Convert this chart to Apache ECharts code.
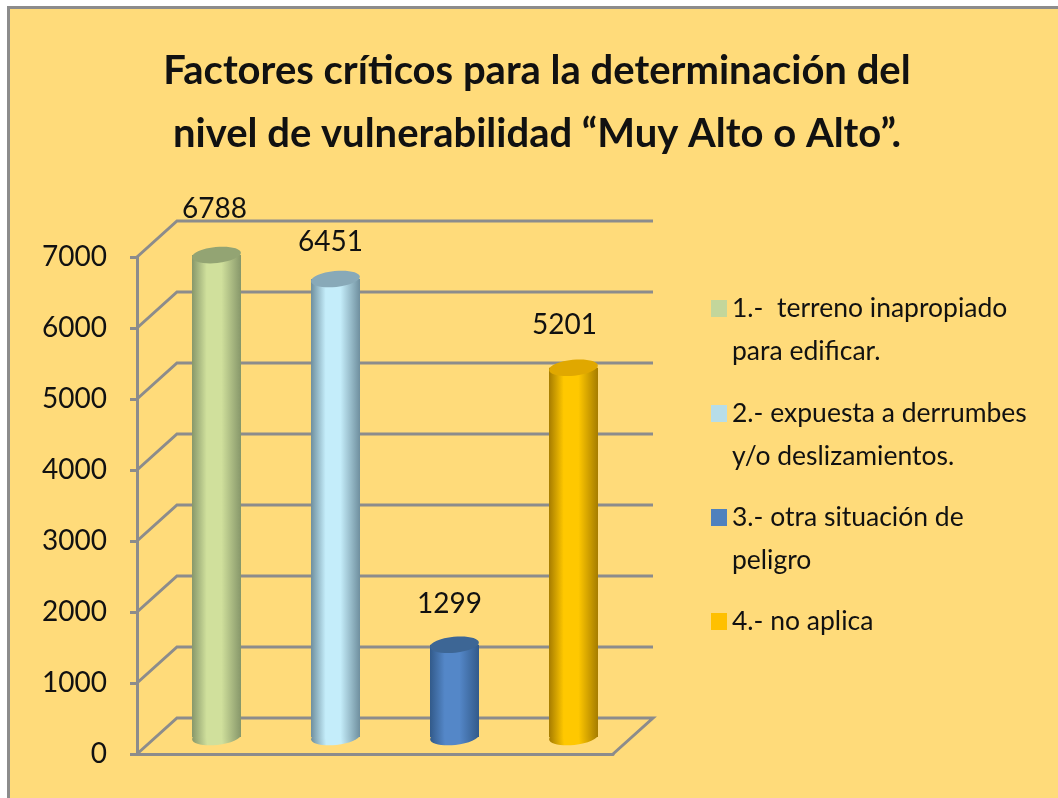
<!DOCTYPE html>
<html>
<head>
<meta charset="utf-8">
<script src="https://cdn.jsdelivr.net/npm/echarts@6/dist/echarts.min.js"></script>
<style>
html, body { margin: 0; padding: 0; background: #fff; }
#main { width: 1058px; height: 798px; }
</style>
</head>
<body>
<div id="main"></div>
<script>
var titleText = "Factores críticos para la determinación del\nnivel de vulnerabilidad “Muy Alto o Alto”.";
var categories = ["1", "2", "3", "4"];
var values = [6788, 6451, 1299, 5201];
var seriesNames = [
  "1.-  terreno inapropiado\npara edificar.",
  "2.- expuesta a derrumbes\ny/o deslizamientos.",
  "3.- otra situación de\npeligro",
  "4.- no aplica"
];
var tickValues = [0, 1000, 2000, 3000, 4000, 5000, 6000, 7000];

var legendColors = ["#C3D69B", "#B7DDE8", "#4F81BD", "#FFC000"];
var edgeColors = ["#87976A", "#6F8F9E", "#325A8A", "#A67C00"];
var midColors = ["#D0E09C", "#C4EDFA", "#5487C8", "#FFC800"];
var capColors = ["#93A473", "#88A9B8", "#3D6695", "#E0A800"];
var legendTops = [239, 344, 448, 595];
// the labels do not sit at a fixed distance from the bars in the original
var labelLift = [46, 37, 41, 43];
var labelShift = [-2, -5, -5, -9];

var fontName = "Lato, 'Noto Sans', sans-serif";
var gridColor = "#8C8C8C";
// offset from the front plane to the back wall
var depthX = 40, depthY = -36;

var chart = echarts.init(document.getElementById("main"));

function renderWalls(params, api) {
  var c = params.coordSys;
  var y = api.coord([0, api.value(0)])[1];
  var style = { stroke: gridColor, lineWidth: 3, fill: "none" };
  var pts = [[c.x, y], [c.x + depthX, y + depthY], [c.x + c.width + depthX, y + depthY]];
  if (api.value(0) === 0) {
    pts.push([c.x + c.width, y]);
  }
  return { type: "polyline", shape: { points: pts }, style: style, silent: true };
}

function renderCylinder(i) {
  return function (params, api) {
    var p = api.coord([api.value(0), api.value(1)]);
    var base = api.coord([api.value(0), 0]);
    var cx = p[0] + 20;
    var top = p[1] - 17;
    var bottom = base[1] - 17;
    var w = 49;
    var h = 16;
    var body = new echarts.graphic.LinearGradient(0, 0, 1, 0, [
      { offset: 0, color: edgeColors[i] },
      { offset: 0.3, color: midColors[i] },
      { offset: 0.6, color: midColors[i] },
      { offset: 1, color: edgeColors[i] }
    ]);
    return {
      type: "group",
      children: [
        {
          type: "ellipse",
          shape: { cx: cx, cy: bottom, rx: w / 2, ry: h / 2 },
          rotation: 0.1,
          originX: cx,
          originY: bottom,
          style: { fill: body }
        },
        {
          type: "rect",
          shape: { x: cx - w / 2, y: top, width: w, height: bottom - top },
          style: { fill: body }
        },
        {
          type: "ellipse",
          shape: { cx: cx, cy: top, rx: w / 2, ry: h / 2 },
          rotation: 0.1,
          originX: cx,
          originY: top,
          style: { fill: capColors[i] }
        },
        {
          type: "text",
          z2: 10,
          style: {
            x: cx + labelShift[i],
            y: top - labelLift[i],
            text: String(api.value(1)),
            fill: "#111",
            font: "28px " + fontName,
            align: "center",
            verticalAlign: "middle"
          }
        }
      ]
    };
  };
}

var series = [{
  type: "custom",
  name: "paredes",
  renderItem: renderWalls,
  data: tickValues.map(function (v) { return [v]; }),
  encode: { y: 0 },
  z: 1,
  silent: true
}];
categories.forEach(function (cat, i) {
  series.push({
    type: "custom",
    name: seriesNames[i],
    renderItem: renderCylinder(i),
    data: [[cat, values[i]]],
    encode: { x: 0, y: 1 },
    itemStyle: { color: legendColors[i] },
    z: 5
  });
});

var option = {
  backgroundColor: "#FFFFFF",
  animation: false,
  title: {
    text: titleText,
    left: 532,
    top: 35,
    textAlign: "center",
    textStyle: {
      fontFamily: fontName,
      fontWeight: "bold",
      fontSize: 40,
      lineHeight: 63,
      color: "#111"
    }
  },
  // one legend per entry: the icon has to sit on the first text line
  legend: seriesNames.map(function (name, i) {
    return {
      data: [name],
      orient: "vertical",
      left: 706,
      top: legendTops[i],
      itemWidth: 16,
      itemHeight: 17,
      icon: "rect",
      selectedMode: false,
      formatter: function (n) { return n.indexOf("\n") >= 0 ? "\n" + n : n; },
      textStyle: { fontFamily: fontName, fontSize: 26.5, lineHeight: 43, color: "#111" }
    };
  }),
  grid: { left: 137, top: 257, width: 476, height: 497 },
  xAxis: {
    type: "category",
    data: categories,
    axisLabel: { show: false },
    axisTick: { show: false },
    axisLine: { show: true, lineStyle: { color: gridColor, width: 3 } },
    splitLine: { show: false }
  },
  yAxis: {
    type: "value",
    min: 0,
    max: 7000,
    interval: 1000,
    axisLabel: {
      fontFamily: fontName,
      fontSize: 28,
      color: "#111",
      margin: 30,
      formatter: function (v) { return String(v); }
    },
    axisTick: { show: true, length: 7, lineStyle: { color: gridColor, width: 3 } },
    axisLine: { show: true, lineStyle: { color: gridColor, width: 3 } },
    splitLine: { show: false }
  },
  // frame of the slide, it runs off the picture on the right and at the bottom
  graphic: [{
    type: "rect",
    z: -10,
    shape: { x: 8.5, y: 7.5, width: 1100, height: 900 },
    style: { fill: "#FFDB7A", stroke: gridColor, lineWidth: 3 }
  }],
  series: series
};
chart.setOption(option);
</script>
</body>
</html>
